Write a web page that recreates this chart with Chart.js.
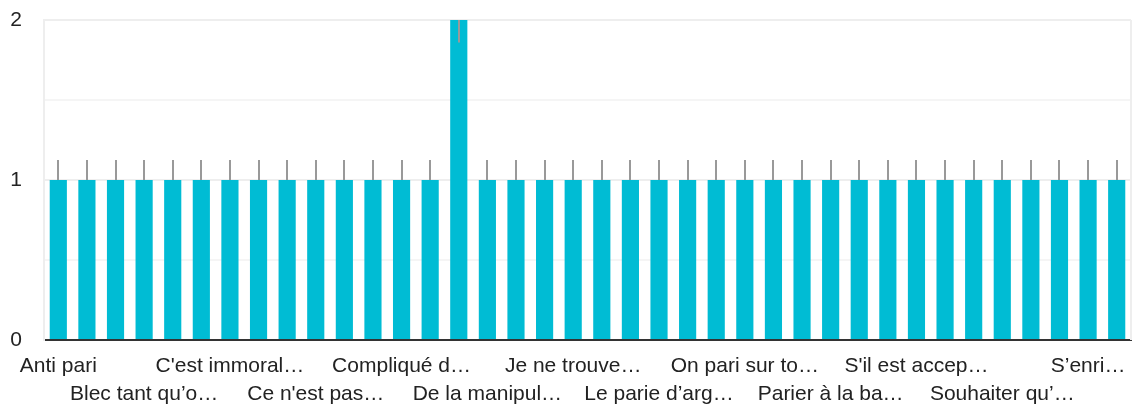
<!DOCTYPE html>
<html>
<head>
<meta charset="utf-8">
<script src="https://cdn.jsdelivr.net/npm/chart.js@4"></script>
<style>
  html, body { margin: 0; padding: 0; background: #fff; }
  #wrap { width: 1135px; height: 408px; }
</style>
</head>
<body>
<div id="wrap"><canvas id="c" width="1135" height="408"></canvas></div>
<script>
// Categories (only the labels legible in the reference are filled in; the others are hidden there)
const categories = [
  "Anti pari", "", "", "Blec tant qu’o…", "", "", "C'est immoral…", "", "", "Ce n'est pas…",
  "", "", "Compliqué d…", "", "", "De la manipul…", "", "", "Je ne trouve…", "",
  "", "Le parie d’arg…", "", "", "On pari sur to…", "", "", "Parier à la ba…", "", "",
  "S'il est accep…", "", "", "Souhaiter qu’…", "", "", "S’enri…", ""
];
const counts = [
  1, 1, 1, 1, 1, 1, 1, 1, 1, 1,
  1, 1, 1, 1, 2, 1, 1, 1, 1, 1,
  1, 1, 1, 1, 1, 1, 1, 1, 1, 1,
  1, 1, 1, 1, 1, 1, 1, 1
];
const whiskerEnd = [
  1.125, 1.125, 1.125, 1.125, 1.125, 1.125, 1.125, 1.125, 1.125, 1.125,
  1.125, 1.125, 1.125, 1.125, 1.86, 1.125, 1.125, 1.125, 1.125, 1.125,
  1.125, 1.125, 1.125, 1.125, 1.125, 1.125, 1.125, 1.125, 1.125, 1.125,
  1.125, 1.125, 1.125, 1.125, 1.125, 1.125, 1.125, 1.125
];
const yTicks = [0, 1, 2];

const whiskers = {
  id: 'whiskers',
  afterDatasetsDraw(chart) {
    const ctx = chart.ctx;
    const meta = chart.getDatasetMeta(0);
    const y = chart.scales.y;
    ctx.save();
    ctx.strokeStyle = '#999999';
    ctx.lineWidth = 2;
    meta.data.forEach((bar, i) => {
      const x = Math.round(bar.x);
      ctx.beginPath();
      ctx.moveTo(x, y.getPixelForValue(counts[i]));
      ctx.lineTo(x, y.getPixelForValue(whiskerEnd[i]));
      ctx.stroke();
    });
    ctx.restore();
  }
};

const frame = {
  id: 'frame',
  beforeDatasetsDraw(chart) {
    const { ctx, chartArea } = chart;
    ctx.save();
    ctx.strokeStyle = '#eeeeee';
    ctx.lineWidth = 2;
    ctx.beginPath();
    ctx.moveTo(chartArea.right, chartArea.top);
    ctx.lineTo(chartArea.right, chartArea.bottom);
    ctx.stroke();
    ctx.restore();
  }
};

new Chart(document.getElementById('c'), {
  type: 'bar',
  data: {
    labels: categories,
    datasets: [{
      data: counts,
      backgroundColor: '#00bcd4',
      borderWidth: 0,
      barPercentage: 0.6,
      categoryPercentage: 1.0
    }]
  },
  options: {
    responsive: false,
    animation: false,
    devicePixelRatio: 1,
    layout: { autoPadding: false, padding: { top: 20, right: 4, left: 0, bottom: 0 } },
    plugins: { legend: { display: false }, tooltip: { enabled: false } },
    scales: {
      x: {
        grid: { display: false },
        border: { display: true, color: '#333333', width: 2 },
        afterFit(s) { s.height = 68; s.paddingLeft = 0; s.paddingRight = 0; },
        ticks: {
          autoSkip: false,
          maxRotation: 0,
          minRotation: 0,
          padding: 5,
          color: '#222222',
          font: { family: 'Liberation Sans, Arial, sans-serif', size: 21, lineHeight: 1.3 },
          callback(v, i) {
            if (i % 3 !== 0) return '';
            return (i / 3) % 2 === 0 ? categories[i] : ['', categories[i]];
          }
        }
      },
      y: {
        min: 0,
        max: 2,
        afterFit(s) { s.width = 44; s.paddingTop = 0; s.paddingBottom = 0; },
        afterBuildTicks(s) {
          s.ticks = [0, 0.5, 1, 1.5, 2].map(v => ({ value: v }));
        },
        grid: {
          drawTicks: false,
          lineWidth: 2,
          color(c) {
            if (c.tick.value === 0) return 'rgba(0,0,0,0)';
            return Number.isInteger(c.tick.value) ? '#eeeeee' : '#f5f5f5';
          }
        },
        border: { display: true, color: '#eeeeee', width: 2 },
        ticks: {
          padding: 22,
          color: '#222222',
          font: { family: 'Liberation Sans, Arial, sans-serif', size: 21 },
          callback(v) { return yTicks.includes(v) ? String(v) : ''; }
        }
      }
    }
  },
  plugins: [frame, whiskers]
});
</script>
</body>
</html>
